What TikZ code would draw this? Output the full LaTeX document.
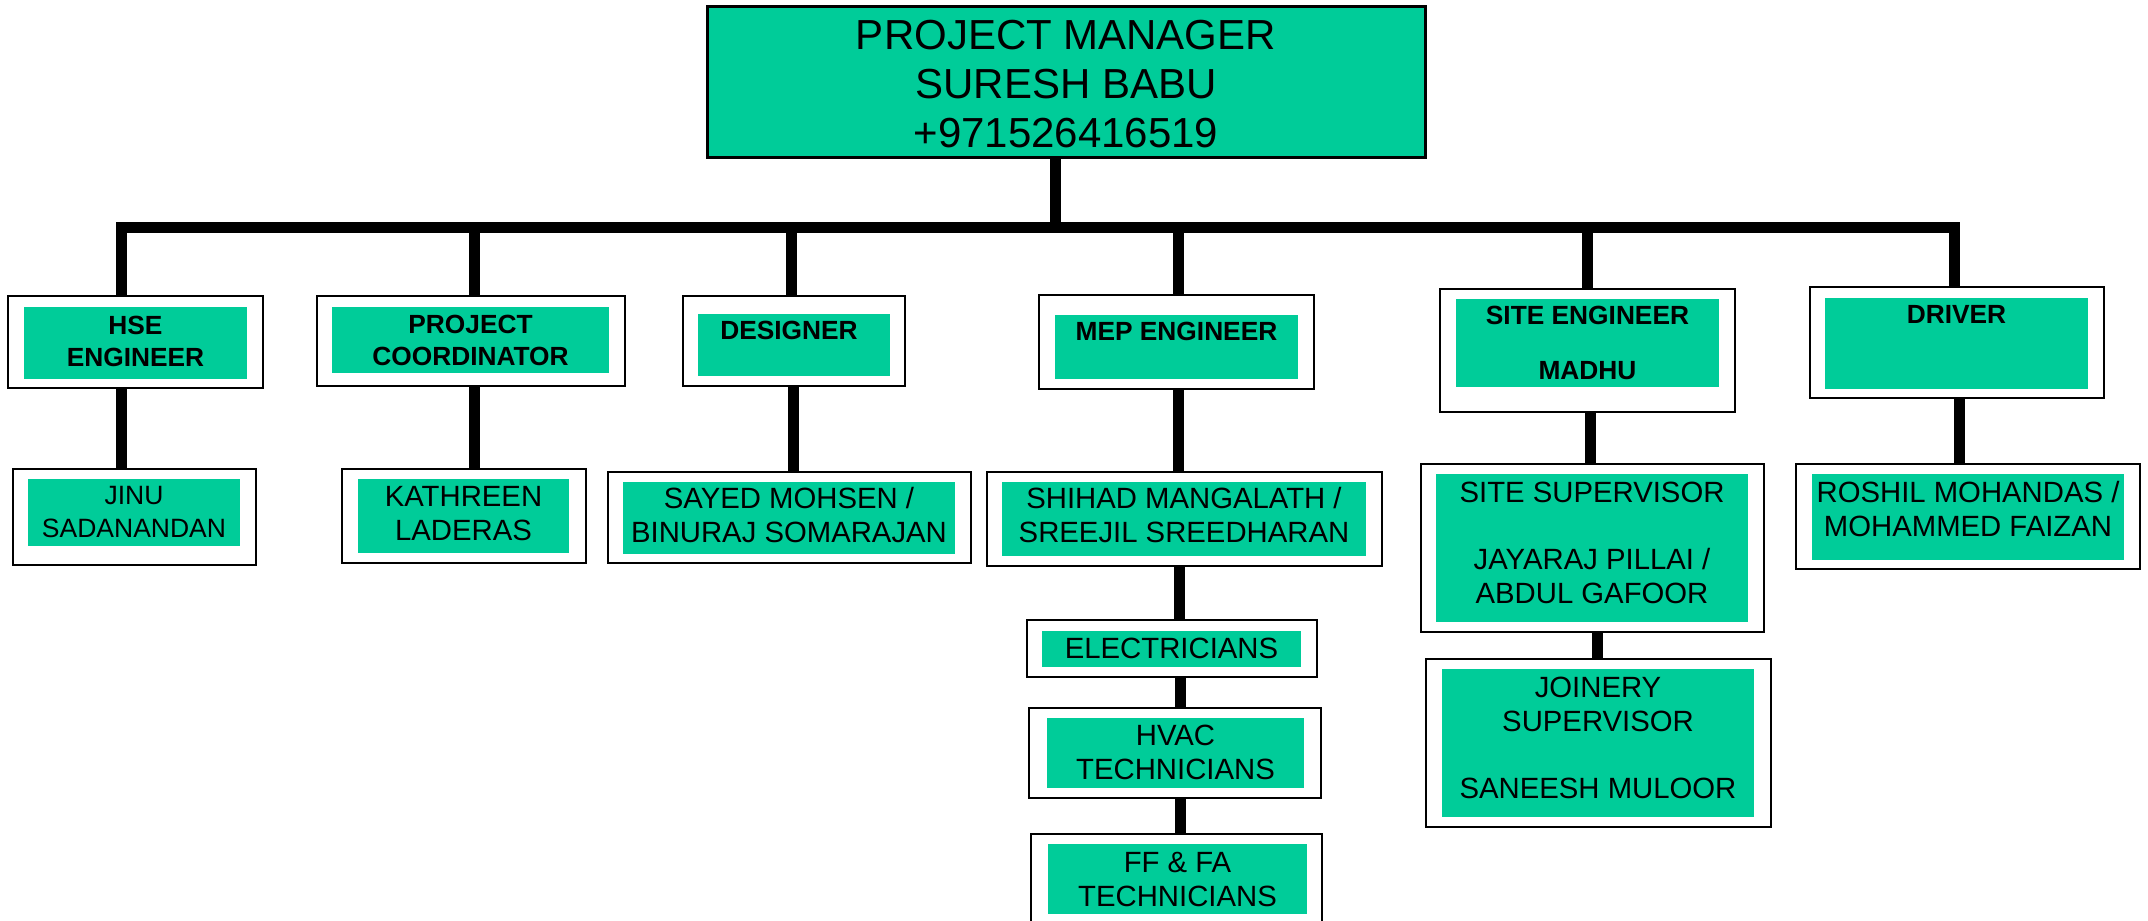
\documentclass[tikz,border=0pt]{standalone}
\usepackage{fontspec}
\setmainfont{Liberation Sans}
\usetikzlibrary{fit,calc}
\definecolor{orggreen}{RGB}{0,204,153}
\begin{document}
\begin{tikzpicture}[x=0.5pt,y=-0.5pt,
  outerbox/.style={draw=black,line width=1pt,fill=white,inner sep=0pt,rectangle},
  innerbox/.style={fill=orggreen,draw=none,inner sep=0pt,rectangle},
  topbox/.style={draw=black,line width=1.5pt,fill=orggreen,inner sep=0pt,rectangle},
  toplbl/.style={font=\fontsize{21}{24.5}\selectfont,align=center,anchor=base,inner sep=0pt},
  lbl/.style={font=\fontsize{14.65}{16.75}\selectfont,align=center,anchor=base,inner sep=0pt},
  slbl/.style={font=\fontsize{13.25}{16.5}\selectfont,align=center,anchor=base,inner sep=0pt},
  blbl/.style={font=\bfseries\fontsize{13.15}{16}\selectfont,align=center,anchor=base,inner sep=0pt},
  conn/.style={draw=black,line width=5.5pt,line join=miter}]
\useasboundingbox (0,0) rectangle (2148,921);

% top box (label anchors are at the baseline of the last line)
\node[topbox,fit={(707,6)(1425,157)}] (top) {};
\node[toplbl] (topt) at (1066,147) {PROJECT MANAGER\\SURESH BABU\\+971526416519};

% level 1
\node[outerbox,fit={(8,296)(263,388)}] (hse) {};
\node[innerbox,fit={(24,307)(247,379)}] (hsei) {};
\node[blbl] (hset) at (135.5,366) {HSE\\ENGINEER};

\node[outerbox,fit={(317,296)(625,386)}] (pc) {};
\node[innerbox,fit={(332,307)(609,373)}] (pci) {};
\node[blbl] (pct) at (470.5,365) {PROJECT\\COORDINATOR};

\node[outerbox,fit={(683,296)(905,386)}] (des) {};
\node[innerbox,fit={(698,314)(890,376)}] (desi) {};
\node[blbl] (dest) at (789,339) {DESIGNER};

\node[outerbox,fit={(1039,295)(1314,389)}] (mep) {};
\node[innerbox,fit={(1055,315)(1298,379)}] (mepi) {};
\node[blbl] (mept) at (1176.5,340) {MEP ENGINEER};

\node[outerbox,fit={(1440,289)(1735,412)}] (se) {};
\node[innerbox,fit={(1456,299)(1719,387)}] (sei) {};
\node[blbl] (set) at (1587.5,379) {SITE ENGINEER\\[11.5pt]MADHU};

\node[outerbox,fit={(1810,287)(2104,398)}] (drv) {};
\node[innerbox,fit={(1825,298)(2088,389)}] (drvi) {};
\node[blbl] (drvt) at (1956.5,323) {DRIVER};

% level 2
\node[outerbox,fit={(13,469)(256,565)}] (jinu) {};
\node[innerbox,fit={(28,479)(240,546)}] (jinui) {};
\node[slbl] (jinut) at (134,537) {JINU\\SADANANDAN};

\node[outerbox,fit={(342,469)(586,563)}] (kat) {};
\node[innerbox,fit={(358,479)(569,553)}] (kati) {};
\node[lbl] (katt) at (463.5,540) {KATHREEN\\LADERAS};

\node[outerbox,fit={(608,472)(971,563)}] (say) {};
\node[innerbox,fit={(623,482)(955,554)}] (sayi) {};
\node[lbl] (sayt) at (789,542) {SAYED MOHSEN /\\BINURAJ SOMARAJAN};

\node[outerbox,fit={(987,472)(1382,566)}] (shi) {};
\node[innerbox,fit={(1002,482)(1366,556)}] (shii) {};
\node[lbl] (shit) at (1184,542) {SHIHAD MANGALATH /\\SREEJIL SREEDHARAN};

\node[outerbox,fit={(1027,620)(1317,677)}] (ele) {};
\node[innerbox,fit={(1042,631)(1301,667)}] (elei) {};
\node[lbl] (elet) at (1171.5,658) {ELECTRICIANS};

\node[outerbox,fit={(1029,708)(1321,798)}] (hvac) {};
\node[innerbox,fit={(1047,718)(1304,788)}] (hvaci) {};
\node[lbl] (hvact) at (1175.5,779) {HVAC\\TECHNICIANS};

\node[outerbox,fit={(1031,834)(1322,930)}] (ff) {};
\node[innerbox,fit={(1048,844)(1307,914)}] (ffi) {};
\node[lbl] (fft) at (1177.5,906) {FF \& FA\\TECHNICIANS};

\node[outerbox,fit={(1421,464)(1764,632)}] (ss) {};
\node[innerbox,fit={(1436,474)(1748,622)}] (ssi) {};
\node[lbl] (sst) at (1592,603) {SITE SUPERVISOR\\[16.75pt]JAYARAJ PILLAI /\\ABDUL GAFOOR};

\node[outerbox,fit={(1426,659)(1771,827)}] (joi) {};
\node[innerbox,fit={(1442,669)(1754,817)}] (joii) {};
\node[lbl] (joit) at (1598,798) {JOINERY\\SUPERVISOR\\[16.75pt]SANEESH MULOOR};

\node[outerbox,fit={(1796,464)(2140,569)}] (ros) {};
\node[innerbox,fit={(1812,474)(2124,560)}] (rosi) {};
\node[lbl] (rost) at (1968,536) {ROSHIL MOHANDAS /\\MOHAMMED FAIZAN};

% connectors
\coordinate (bus) at (1055,227.5);
\coordinate (hsetop) at ($(hse.north)+(-14,0)$);
\coordinate (drvtop) at ($(drv.north)+(-2.5,0)$);
\draw[conn] (hsetop) |- (bus) -| (drvtop);
\coordinate (topbot) at ($(top.south)+(-11,0)$);
\draw[conn] (topbot) -- (topbot |- bus);
\coordinate (pctop) at ($(pc.north)+(3,0)$);
\draw[conn] (pctop) -- (pctop |- bus);
\coordinate (destop) at ($(des.north)+(-2.5,0)$);
\draw[conn] (destop) -- (destop |- bus);
\coordinate (meptop) at ($(mep.north)+(1.5,0)$);
\draw[conn] (meptop) -- (meptop |- bus);
\coordinate (setop) at (se.north);
\draw[conn] (setop) -- (setop |- bus);

\coordinate (hsebot) at ($(hse.south)+(-14,0)$);
\draw[conn] (hsebot) -- (hsebot |- jinu.north);
\coordinate (pcbot) at ($(pc.south)+(3,0)$);
\draw[conn] (pcbot) -- (pcbot |- kat.north);
\coordinate (desbot) at ($(des.south)+(-0.5,0)$);
\draw[conn] (desbot) -- (desbot |- say.north);
\coordinate (mepbot) at ($(mep.south)+(1.5,0)$);
\draw[conn] (mepbot) -- (mepbot |- shi.north);
\coordinate (shibot) at ($(shi.south)+(-5.5,0)$);
\draw[conn] (shibot) -- (shibot |- ele.north);
\coordinate (elebot) at ($(ele.south)+(8.5,0)$);
\draw[conn] (elebot) -- (elebot |- hvac.north);
\coordinate (hvacbot) at ($(hvac.south)+(5.5,0)$);
\draw[conn] (hvacbot) -- (hvacbot |- ff.north);
\coordinate (sebot) at ($(se.south)+(2.5,0)$);
\draw[conn] (sebot) -- (sebot |- ss.north);
\coordinate (ssbot) at ($(ss.south)+(4.5,0)$);
\draw[conn] (ssbot) -- (ssbot |- joi.north);
\coordinate (drvbot) at ($(drv.south)+(2.5,0)$);
\draw[conn] (drvbot) -- (drvbot |- ros.north);
\end{tikzpicture}
\end{document}
